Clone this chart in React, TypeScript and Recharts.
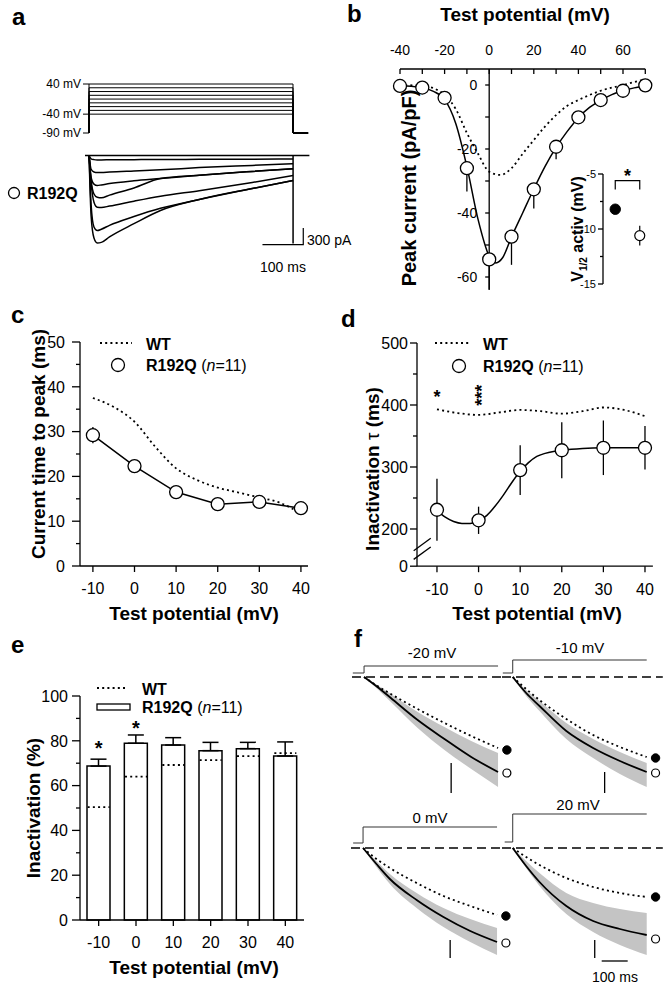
import React from 'react';
import { ComposedChart, Line, Bar, Area, XAxis, YAxis, ErrorBar, ReferenceLine, ReferenceDot } from 'recharts';

const FONT = '"Liberation Sans", Arial, Helvetica, sans-serif';
const K = '#000';
const AX = { stroke: K, strokeWidth: 1.3 };
const DOTS = '2 3.2';

// ===================== Panel a =====================
const protocolLevels = [40, 30, 20, 10, 0, -10, -20, -30, -40];
const holdingPotential = -90;
const pulseEnd = 500;
const protocolEnd = 537;
const protocolTicks = [-90, -40, 40];

const traceTimes = [0, 5, 12, 20, 30, 50, 110, 175, 270, 400, 500];
const traceA = [0, -60, -75, -80, -80, -78, -75, -72, -70, -67, -65];
const traceB = [0, -250, -300, -310, -310, -300, -280, -260, -220, -180, -150];
const traceC = [0, -400, -520, -545, -535, -510, -460, -420, -360, -290, -240];
const traceD = [0, -450, -700, -760, -770, -720, -590, -420, -360, -290, -240];
const traceE = [0, -500, -850, -940, -945, -920, -830, -740, -640, -490, -365];
const traceF = [0, -900, -1300, -1365, -1340, -1270, -1110, -960, -800, -600, -455];
const traceG = [0, -1100, -1500, -1590, -1580, -1480, -1240, -1000, -800, -600, -455];
const currentTraces = [traceA, traceB, traceC, traceD, traceE, traceF, traceG];
const baselineTimes = [-10, 540];
const tailPeak = -1600;
const aBarTimes = [425, 525, 525];
const aBarCurrents = [-1620, -1620, -1320];

// ===================== Panel b =====================
const ivVoltages = [-40, -30, -20, -10, 0, 10, 20, 30, 40, 50, 60, 70];
const ivR192Q = [-0.3, -0.8, -4.0, -26, -54.5, -47.4, -32.6, -19.3, -10.1, -4.7, -1.8, -0.1];
const ivErrDown = [0, 0, 0.8, 7.3, 9.5, 8.8, 6, 3.9, 1, 0.5, 0.3, 0];
const ivFitV = [-40, -35, -30, -25, -20, -15, -10, -5, 0, 3, 6, 10, 15, 20, 25, 30, 35, 40, 45, 50, 55, 60, 65, 70];
const ivFitI = [-0.2, -0.4, -0.9, -2, -4.5, -12, -25.5, -42, -53.5, -55.6, -54, -47.5, -40, -32.5, -25.5, -19.5, -14.5, -10.2, -7, -4.8, -3, -1.8, -0.9, -0.2];
const ivWtV = [-40, -30, -25, -20, -15, -10, -5, 0, 5, 10, 15, 20, 25, 30, 35, 40, 50, 60, 70];
const ivWtI = [0, -0.3, -1, -3.1, -7.5, -15, -21.5, -27.1, -28.1, -26, -21.5, -17.2, -13, -9.4, -6.5, -4.7, -1.8, 0, 1.8];
const ivTopTicks = [-40, -30, -20, -10, 0, 10, 20, 30, 40, 50, 60, 70];
const ivYTicks = [-60, -50, -40, -30, -20, -10, 0];
const vHalfWT = -8.2;
const vHalfR192Q = -10.6;
const vHalfR192QErr = 0.9;
const vHalfTicks = [-15, -12.5, -10, -7.5, -5];
const vHalfBracket = [-6.4, -5.6, -5.6, -6.4];

// ===================== Panel c =====================
const tpV = [-10, 0, 10, 20, 30, 40];
const tpR192Q = [29.2, 22.3, 16.5, 13.8, 14.3, 12.9];
const tpErr = [1.8, 0.8, 0.6, 0.5, 0.6, 0.6];
const tpWtV = [-10, -5, 0, 5, 10, 15, 20, 25, 30, 35, 40];
const tpWt = [37.5, 35.5, 32.2, 26.6, 21.8, 19.2, 17.5, 16.4, 15.3, 14.1, 11.7];
const tpYTicks = [0, 5, 10, 15, 20, 25, 30, 35, 40, 45, 50];
const xTicks = [-10, 0, 10, 20, 30, 40];

// ===================== Panel d =====================
const tauV = [-10, 0, 10, 20, 30, 40];
const tauR192Q = [231, 214, 295, 327, 331, 331];
const tauErr = [50, 22, 40, 45, 44, 35];
const tauFitV = [-10, -8, -6, -4, -2, 0, 2, 4, 6, 8, 10, 12, 14, 16, 18, 20, 25, 30, 35, 40];
const tauFit = [230, 219, 212, 209, 209, 213, 222, 237, 255, 275, 293, 307, 317, 322, 325, 327, 330, 331, 331, 331];
const tauWtV = [-10, -5, 0, 5, 10, 15, 20, 25, 30, 35, 40];
const tauWt = [393, 387, 384, 388, 392, 390, 386, 390, 396, 392, 382];
const tauYTicks = [140, 200, 250, 300, 350, 400, 450, 500];
const tauStars = [{ v: -10, y: 419, txt: '*', rot: false }, { v: 0, y: 415.6, txt: '***', rot: true }];

// ===================== Panel e =====================
const inCats = ['-10', '0', '10', '20', '30', '40'];
const inR192Q = [68.7, 78.9, 78.1, 75.6, 76.5, 73.2];
const inErr = [3.1, 3.7, 3.3, 3.7, 2.8, 6.3];
const inWt = [50.4, 64, 69.2, 71.4, 73.2, 74.5];
const inYTicks = [0, 10, 20, 30, 40, 50, 60, 70, 80, 90, 100];
const inStars = [{ c: '-10', y: 78.9 }, { c: '0', y: 87.8 }];

// ===================== Panel f =====================
const fTimes = [0, 50, 100, 200, 300, 400, 500];
const f1Solid = [0, -10, -21, -43, -62, -80, -95];
const f1Dotted = [0, -9, -17, -32, -46, -59, -71];
const f1BandHi = [0, -8, -17, -35, -50, -64, -76];
const f1BandLo = [0, -12, -25, -51, -73, -92, -110];
const f2Solid = [0, -16, -29, -54, -71, -84, -95];
const f2Dotted = [0, -12, -23, -42, -58, -70, -80];
const f2BandHi = [0, -13, -24, -46, -62, -75, -86];
const f2BandLo = [0, -19, -34, -62, -81, -97, -110];
const f3Solid = [0, -16, -31, -52, -69, -83, -94];
const f3Dotted = [0, -11, -20, -35, -48, -58, -67];
const f3BandHi = [0, -13, -26, -45, -60, -71, -80];
const f3BandLo = [0, -19, -36, -60, -79, -94, -107];
const f4Solid = [0, -18, -34, -58, -73, -81, -87];
const f4Dotted = [0, -9, -17, -30, -39, -45, -49];
const f4BandHi = [0, -13, -25, -45, -55, -61, -65];
const f4BandLo = [0, -20, -38, -66, -84, -97, -107];
const fMarkerT = 533;
const fMarkerFilled = [-73, -81, -68, -49];
const fMarkerOpen = [-96, -96, -95, -91];
const fHold = [4, 4, 5, 6];
const fStep = [11, 17, 21, 34];
const fStepStart = [-42, -37, -37, -30];
const fBarT = [325, 343, 325, 306];
const fBarTop = [-86, -95, -92, -92];
const fBarBottom = [-116, -116, -110, -110];
const fTimeBarT = [332, 429];
const fTimeBarY = -113;
const fLabels = ['-20 mV', '-10 mV', '0 mV', '20 mV'];

// ===================== helpers =====================
const Box = ({ l, t, w, h, children }: any) => (
  <div style={{ position: 'absolute', left: l, top: t, width: w, height: h }}>{children}</div>
);

const makeYTick = (o: any) => (p: any) => {
  const v = p.payload.value;
  const ax = p.x + o.ts + o.tm;
  const major = o.isMajor(v);
  const len = major ? o.majorLen : o.minorLen;
  return (
    <g>
      <line x1={ax - len} x2={ax} y1={p.y} y2={p.y} stroke={K} strokeWidth={1.3} />
      {major && (
        <text x={ax - o.gap} y={p.y} dy="0.36em" textAnchor="end" fontSize={o.fs} fill={K} fontFamily={FONT}>
          {o.label(v)}
        </text>
      )}
    </g>
  );
};

const TopTick = (p: any) => {
  const v = p.payload.value;
  const ay = p.y + 14;
  return (
    <g>
      <line x1={p.x} x2={p.x} y1={ay} y2={ay + 5} stroke={K} strokeWidth={1.3} />
      {v % 20 === 0 && (
        <text x={p.x} y={p.y} textAnchor="middle" fontSize={14} fill={K} fontFamily={FONT}>{v}</text>
      )}
    </g>
  );
};

const ProtoTick = (p: any) => {
  const v = p.payload.value;
  const ax = p.x + 8;
  return (
    <g>
      <line x1={ax - 6} x2={ax} y1={p.y} y2={p.y} stroke={K} strokeWidth={1} />
      <text x={ax - 8} y={p.y} dy="0.36em" textAnchor="end" fontSize={12} fill={K} fontFamily={FONT}>{`${v} mV`}</text>
    </g>
  );
};

const starShape = (txt: string, size: number, rot: boolean) => (p: any) => (
  <text x={p.cx} y={p.cy} dy={rot ? '0.55em' : '0.57em'} textAnchor="middle" fontSize={size} fontWeight="bold" fill={K}
    fontFamily={FONT} transform={rot ? `rotate(-90 ${p.cx} ${p.cy})` : undefined}>{txt}</text>
);

const openDot = { r: 6.5, fill: '#fff', stroke: K, strokeWidth: 1.3 };
const bottomX = (domain: number[]) => (
  <XAxis type="number" dataKey="v" domain={domain} ticks={xTicks} interval={0} height={30} tickSize={6} tickMargin={11}
    tick={{ fontSize: 16, fill: K }} tickLine={AX} axisLine={AX} />
);

// ===================== panels =====================
function PanelA() {
  const rows = traceTimes.map((t, i) => {
    const r: any = { t };
    currentTraces.forEach((tr, j) => { r['c' + j] = tr[i]; });
    return r;
  });
  return (
    <>
      <Box l={20} t={74} w={300} h={66}>
        <ComposedChart width={300} height={66} margin={{ top: 10, right: 11.9, bottom: 7, left: 9 }}>
          <XAxis type="number" dataKey="t" domain={[0, protocolEnd]} hide />
          <YAxis type="number" domain={[holdingPotential, 40]} ticks={protocolTicks} interval={0} width={60} axisLine={false}
            tickLine={false} tickSize={6} tickMargin={2} tick={ProtoTick} />
          {protocolLevels.map((L) => (
            <Line key={L} dataKey="v" type="linear" stroke={K} strokeWidth={1} dot={false} activeDot={false} isAnimationActive={false}
              data={[{ t: 0, v: holdingPotential }, { t: 0, v: L }, { t: pulseEnd, v: L }, { t: pulseEnd, v: holdingPotential }, { t: protocolEnd, v: holdingPotential }]} />
          ))}
        </ComposedChart>
      </Box>
      <Box l={84.92} t={149.5} w={224.4} h={99}>
        <ComposedChart width={224.4} height={99} margin={{ top: 0, right: 0, bottom: 0, left: 0 }} data={rows}>
          <XAxis type="number" dataKey="t" domain={[-10, 540]} hide />
          <YAxis type="number" domain={[-1700, 100]} hide />
          <Line data={baselineTimes.map((t) => ({ t, c0: 0 }))} dataKey="c0" type="linear" stroke={K} strokeWidth={1.5} dot={false} activeDot={false} isAnimationActive={false} />
          <Line data={[{ t: pulseEnd, c0: 0 }, { t: pulseEnd, c0: tailPeak }]} dataKey="c0" type="linear" stroke={K} strokeWidth={1.5} dot={false} activeDot={false} isAnimationActive={false} />
          {currentTraces.map((_, j) => (
            <Line key={j} dataKey={'c' + j} type="monotone" stroke={K} strokeWidth={1.5} dot={false} activeDot={false} isAnimationActive={false} />
          ))}
          <Line data={aBarTimes.map((t, i) => ({ t, c0: aBarCurrents[i] }))} dataKey="c0" type="linear" stroke={K} strokeWidth={1.2} dot={false} activeDot={false} isAnimationActive={false} />
        </ComposedChart>
      </Box>
    </>
  );
}

function PanelB() {
  const pts = ivVoltages.map((v, i) => ({ v, i: ivR192Q[i], e: [ivErrDown[i], 0] }));
  const fit = ivFitV.map((v, i) => ({ v, i: ivFitI[i] }));
  const wt = ivWtV.map((v, i) => ({ v, i: ivWtI[i] }));
  const br = [1, 1, 3, 3].map((x, i) => ({ x, y: vHalfBracket[i] }));
  return (
    <>
      <Box l={400} t={40} w={245.3} h={249.8}>
        <ComposedChart width={245.3} height={249.8} margin={{ top: 0, right: 0, bottom: 0, left: 0 }}>
          <XAxis type="number" dataKey="v" orientation="top" domain={[-40, 70]} ticks={ivTopTicks} interval={0} height={29}
            tickSize={8} tickMargin={6} tickLine={false} tick={TopTick} axisLine={AX} />
          <YAxis type="number" domain={[-64, 5]} hide />
          <ReferenceLine x={0} stroke={K} strokeWidth={1.3} />
          {ivYTicks.map((y) => (
            <ReferenceLine key={y} segment={[{ x: -1.8, y }, { x: 0, y }]} stroke={K} strokeWidth={1.3} ifOverflow="visible"
              label={y % 20 === 0 ? { value: String(y), position: 'left', offset: 8, fontSize: 14, fill: K } : undefined} />
          ))}
          <Line data={wt} dataKey="i" type="monotone" stroke={K} strokeWidth={1.8} strokeDasharray={DOTS} dot={false} activeDot={false} isAnimationActive={false} />
          <Line data={fit} dataKey="i" type="monotone" stroke={K} strokeWidth={1.5} dot={false} activeDot={false} isAnimationActive={false} />
          <Line data={pts} dataKey="i" stroke="none" dot={openDot} activeDot={false} isAnimationActive={false}>
            <ErrorBar dataKey="e" width={0} stroke={K} strokeWidth={1.3} direction="y" />
          </Line>
        </ComposedChart>
      </Box>
      <Box l={563} t={174} w={89} h={110}>
        <ComposedChart width={89} height={110} margin={{ top: 0, right: 0, bottom: 0, left: 0 }}>
          <XAxis type="number" dataKey="x" domain={[0, 4]} hide />
          <YAxis type="number" domain={[-15, -5]} ticks={vHalfTicks} interval={0} width={40} tickSize={5} tickMargin={3} tickLine={false}
            axisLine={AX} tick={makeYTick({ ts: 5, tm: 3, isMajor: (v: number) => v % 5 === 0, label: String, majorLen: 5, minorLen: 3, gap: 7, fs: 11 })} />
          <Line data={br} dataKey="y" type="linear" stroke={K} strokeWidth={1.2} dot={false} activeDot={false} isAnimationActive={false} />
          <Line data={[{ x: 1, y: vHalfWT }]} dataKey="y" stroke="none" dot={{ r: 5.2, fill: K, stroke: K }} activeDot={false} isAnimationActive={false} />
          <Line data={[{ x: 3, y: vHalfR192Q, e: vHalfR192QErr }]} dataKey="y" stroke="none" dot={{ r: 5, fill: '#fff', stroke: K, strokeWidth: 1.2 }} activeDot={false} isAnimationActive={false}>
            <ErrorBar dataKey="e" width={0} stroke={K} strokeWidth={1.2} direction="y" />
          </Line>
          <ReferenceDot x={2} y={-4.82} r={1} ifOverflow="visible" shape={starShape('*', 18, false)} />
        </ComposedChart>
      </Box>
    </>
  );
}

function PanelC() {
  const pts = tpV.map((v, i) => ({ v, y: tpR192Q[i], e: tpErr[i] }));
  const wt = tpWtV.map((v, i) => ({ v, y: tpWt[i] }));
  return (
    <Box l={30} t={342} w={278} h={254}>
      <ComposedChart width={278} height={254} margin={{ top: 0, right: 0, bottom: 0, left: 0 }}>
        {bottomX([-13.1, 41.7])}
        <YAxis type="number" domain={[0, 50]} ticks={tpYTicks} interval={0} width={50} tickSize={8} tickMargin={7} tickLine={false} axisLine={AX}
          tick={makeYTick({ ts: 8, tm: 7, isMajor: (v: number) => v % 10 === 0, label: String, majorLen: 8, minorLen: 4, gap: 15, fs: 16 })} />
        <Line data={wt} dataKey="y" type="monotone" stroke={K} strokeWidth={1.8} strokeDasharray={DOTS} dot={false} activeDot={false} isAnimationActive={false} />
        <Line data={pts} dataKey="y" type="linear" stroke={K} strokeWidth={1.5} dot={openDot} activeDot={false} isAnimationActive={false}>
          <ErrorBar dataKey="e" width={0} stroke={K} strokeWidth={1.3} direction="y" />
        </Line>
      </ComposedChart>
    </Box>
  );
}

function PanelD() {
  const pts = tauV.map((v, i) => ({ v, y: tauR192Q[i], e: tauErr[i] }));
  const fit = tauFitV.map((v, i) => ({ v, y: tauFit[i] }));
  const wt = tauWtV.map((v, i) => ({ v, y: tauWt[i] }));
  return (
    <Box l={357} t={343} w={295.9} h={253.2}>
      <ComposedChart width={295.9} height={253.2} margin={{ top: 0, right: 0, bottom: 0, left: 0 }}>
        {bottomX([-14.8, 41.9])}
        <YAxis type="number" domain={[140, 500]} ticks={tauYTicks} interval={0} width={60} tickSize={7} tickMargin={7} tickLine={false} axisLine={AX}
          tick={makeYTick({ ts: 7, tm: 7, isMajor: (v: number) => v === 140 || v % 100 === 0, label: (v: number) => (v === 140 ? '0' : String(v)), majorLen: 7, minorLen: 4, gap: 9, fs: 16 })} />
        <ReferenceLine segment={[{ x: -15.6, y: 165 }, { x: -11.5, y: 185 }]} stroke={K} strokeWidth={1.3} ifOverflow="visible" />
        <ReferenceLine segment={[{ x: -15.6, y: 151 }, { x: -11.5, y: 171 }]} stroke={K} strokeWidth={1.3} ifOverflow="visible" />
        <Line data={wt} dataKey="y" type="monotone" stroke={K} strokeWidth={1.8} strokeDasharray={DOTS} dot={false} activeDot={false} isAnimationActive={false} />
        <Line data={fit} dataKey="y" type="monotone" stroke={K} strokeWidth={1.5} dot={false} activeDot={false} isAnimationActive={false} />
        <Line data={pts} dataKey="y" stroke="none" dot={openDot} activeDot={false} isAnimationActive={false}>
          <ErrorBar dataKey="e" width={0} stroke={K} strokeWidth={1.3} direction="y" />
        </Line>
        {tauStars.map((s) => (
          <ReferenceDot key={s.v} x={s.v} y={s.y} r={1} ifOverflow="visible" shape={starShape(s.txt, 18, s.rot)} />
        ))}
      </ComposedChart>
    </Box>
  );
}

function PanelE() {
  const rows = inCats.map((c, i) => ({ v: c, r: inR192Q[i], e: [0, inErr[i]], wt: inWt[i] }));
  const wtDot = (p: any) => (
    <line key={'w' + p.index} x1={p.cx - 11} x2={p.cx + 11} y1={p.cy} y2={p.cy} stroke={K} strokeWidth={1.8} strokeDasharray={DOTS} />
  );
  return (
    <Box l={30} t={696} w={274} h={254}>
      <ComposedChart width={274} height={254} data={rows} margin={{ top: 0, right: 0, bottom: 0, left: 0 }}>
        <XAxis type="category" dataKey="v" height={30} tickSize={6} tickMargin={11} interval={0} tick={{ fontSize: 16, fill: K }} tickLine={AX} axisLine={AX} />
        <YAxis type="number" domain={[0, 100]} ticks={inYTicks} interval={0} width={50} tickSize={8} tickMargin={4} tickLine={false} axisLine={AX}
          tick={makeYTick({ ts: 8, tm: 4, isMajor: (v: number) => v % 20 === 0, label: String, majorLen: 8, minorLen: 4, gap: 12, fs: 16 })} />
        <Bar dataKey="r" barSize={23} fill="#fff" stroke={K} strokeWidth={1.5} isAnimationActive={false}>
          <ErrorBar dataKey="e" width={8} stroke={K} strokeWidth={1.5} direction="y" />
        </Bar>
        <Line dataKey="wt" stroke="none" dot={wtDot} activeDot={false} isAnimationActive={false} />
        {inStars.map((s) => (
          <ReferenceDot key={s.c} x={s.c} y={s.y} r={1} ifOverflow="visible" shape={starShape('*', 20, false)} />
        ))}
      </ComposedChart>
    </Box>
  );
}

function FSub({ l, t, w, h, xDom, yDom, k, solid, dotted, hi, lo, dashFrom, dashTo, timeBar }: any) {
  const rows = fTimes.map((tm, i) => ({ t: tm, s: solid[i], d: dotted[i], band: [lo[i], hi[i]] }));
  const proto = [{ t: fStepStart[k], y: fHold[k] }, { t: 0, y: fHold[k] }, { t: 0, y: fStep[k] }, { t: pulseEnd, y: fStep[k] }];
  return (
    <Box l={l} t={t} w={w} h={h}>
      <ComposedChart width={w} height={h} data={rows} margin={{ top: 0, right: 0, bottom: 0, left: 0 }}>
        <XAxis type="number" dataKey="t" domain={xDom} hide />
        <YAxis type="number" domain={yDom} hide />
        <Area dataKey="band" type="monotone" fill="#c4c4c4" fillOpacity={1} stroke="none" isAnimationActive={false} />
        <ReferenceLine segment={[{ x: dashFrom, y: 0 }, { x: dashTo, y: 0 }]} stroke={K} strokeWidth={1.3} strokeDasharray="9 5" />
        <Line data={proto} dataKey="y" type="linear" stroke="#333" strokeWidth={1} dot={false} activeDot={false} isAnimationActive={false} />
        <Line dataKey="d" type="monotone" stroke={K} strokeWidth={1.8} strokeDasharray={DOTS} dot={false} activeDot={false} isAnimationActive={false} />
        <Line dataKey="s" type="monotone" stroke={K} strokeWidth={1.8} dot={false} activeDot={false} isAnimationActive={false} />
        <ReferenceLine segment={[{ x: fBarT[k], y: fBarTop[k] }, { x: fBarT[k], y: fBarBottom[k] }]} stroke={K} strokeWidth={1.3} />
        {timeBar && (
          <ReferenceLine segment={[{ x: fTimeBarT[0], y: fTimeBarY }, { x: fTimeBarT[1], y: fTimeBarY }]} stroke={K} strokeWidth={1.3} />
        )}
        <Line data={[{ t: fMarkerT, y: fMarkerFilled[k] }]} dataKey="y" stroke="none" dot={{ r: 4.2, fill: K, stroke: K }} activeDot={false} isAnimationActive={false} />
        <Line data={[{ t: fMarkerT, y: fMarkerOpen[k] }]} dataKey="y" stroke="none" dot={{ r: 4, fill: '#fff', stroke: K, strokeWidth: 1.2 }} activeDot={false} isAnimationActive={false} />
      </ComposedChart>
    </Box>
  );
}

function PanelF() {
  return (
    <>
      <FSub l={351.94} t={657} w={156.78} h={138} xDom={[-45, 540]} yDom={[-118, 20]} k={0}
        solid={f1Solid} dotted={f1Dotted} hi={f1BandHi} lo={f1BandLo} dashFrom={-45} dashTo={516} />
      <FSub l={502.28} t={657} w={160.8} h={138} xDom={[-40, 560]} yDom={[-118, 20]} k={1}
        solid={f2Solid} dotted={f2Dotted} hi={f2BandHi} lo={f2BandLo} dashFrom={-40} dashTo={560} />
      <FSub l={350.94} t={812} w={156.78} h={150} xDom={[-45, 540]} yDom={[-114, 36]} k={2}
        solid={f3Solid} dotted={f3Dotted} hi={f3BandHi} lo={f3BandLo} dashFrom={-45} dashTo={520} />
      <FSub l={502.28} t={812} w={160.8} h={150} xDom={[-40, 560]} yDom={[-114, 36]} k={3}
        solid={f4Solid} dotted={f4Dotted} hi={f4BandHi} lo={f4BandLo} dashFrom={-40} dashTo={560} timeBar />
    </>
  );
}

const RotText = ({ cx, cy, size, children }: any) => (
  <text transform={`translate(${cx},${cy}) rotate(-90)`} textAnchor="middle" dy="0.35em" fontSize={size} fontWeight="bold" fill={K}>{children}</text>
);
const Letter = ({ x, y, c }: any) => (
  <text x={x} y={y} fontSize={24} fontWeight="bold" fill={K}>{c}</text>
);
const R192QText = ({ x, y }: any) => (
  <text x={x} y={y} fontSize={16} fill={K}>
    <tspan fontWeight="bold">R192Q</tspan>
    <tspan> (</tspan>
    <tspan fontStyle="italic">n</tspan>
    <tspan>=11)</tspan>
  </text>
);

function TextLayer() {
  return (
    <svg width={669} height={987} style={{ position: 'absolute', left: 0, top: 0, pointerEvents: 'none' }} fontFamily={FONT}>
      <Letter x={12} y={25} c="a" />
      <Letter x={347} y={22} c="b" />
      <Letter x={11} y={323} c="c" />
      <Letter x={341} y={327} c="d" />
      <Letter x={11} y={653} c="e" />
      <Letter x={354} y={647} c="f" />

      {/* panel a */}
      <circle cx={14} cy={193} r={5.5} fill="#fff" stroke={K} strokeWidth={1.3} />
      <text x={27} y={199} fontSize={16} fontWeight="bold" fill={K}>R192Q</text>
      <text x={307} y={245} fontSize={14} fill={K}>300 pA</text>
      <text x={283} y={272} fontSize={14} fill={K} textAnchor="middle">100 ms</text>

      {/* panel b */}
      <text x={525} y={21} fontSize={19} fontWeight="bold" fill={K} textAnchor="middle">Test potential (mV)</text>
      <RotText cx={409} cy={188} size={20}>Peak current (pA/pF)</RotText>
      <text transform="translate(577,229) rotate(-90)" textAnchor="middle" dy="0.35em" fontSize={16} fontWeight="bold" fill={K}>
        V<tspan fontSize={10} dy={4}>1/2</tspan><tspan dy={-4}> activ (mV)</tspan>
      </text>

      {/* panel c */}
      <line x1={100} x2={132} y1={343} y2={343} stroke={K} strokeWidth={1.8} strokeDasharray={DOTS} />
      <text x={146} y={350} fontSize={16} fontWeight="bold" fill={K}>WT</text>
      <circle cx={118} cy={365} r={6.5} fill="#fff" stroke={K} strokeWidth={1.3} />
      <R192QText x={146} y={371} />
      <RotText cx={38} cy={444} size={19}>Current time to peak (ms)</RotText>
      <text x={194} y={620} fontSize={19} fontWeight="bold" fill={K} textAnchor="middle">Test potential (mV)</text>

      {/* panel d */}
      <line x1={435} x2={470} y1={343} y2={343} stroke={K} strokeWidth={1.8} strokeDasharray={DOTS} />
      <text x={483} y={350} fontSize={16} fontWeight="bold" fill={K}>WT</text>
      <circle cx={459} cy={366} r={6.5} fill="#fff" stroke={K} strokeWidth={1.3} />
      <R192QText x={483} y={372} />
      <text transform="translate(372,469) rotate(-90)" textAnchor="middle" dy="0.35em" fontSize={19} fontWeight="bold" fill={K}>
        Inactivation <tspan fontWeight="normal">τ</tspan> (ms)
      </text>
      <text x={537} y={620} fontSize={19} fontWeight="bold" fill={K} textAnchor="middle">Test potential (mV)</text>

      {/* panel e */}
      <line x1={97} x2={127} y1={688} y2={688} stroke={K} strokeWidth={1.8} strokeDasharray={DOTS} />
      <text x={142} y={695} fontSize={16} fontWeight="bold" fill={K}>WT</text>
      <rect x={97} y={704} width={33} height={6} fill="#fff" stroke={K} strokeWidth={1.3} />
      <R192QText x={142} y={713} />
      <RotText cx={33} cy={808} size={19}>Inactivation (%)</RotText>
      <text x={194} y={974} fontSize={19} fontWeight="bold" fill={K} textAnchor="middle">Test potential (mV)</text>

      {/* panel f */}
      <text x={432} y={658} fontSize={15} fill={K} textAnchor="middle">{fLabels[0]}</text>
      <text x={580} y={653} fontSize={15} fill={K} textAnchor="middle">{fLabels[1]}</text>
      <text x={430} y={823} fontSize={15} fill={K} textAnchor="middle">{fLabels[2]}</text>
      <text x={578} y={810} fontSize={15} fill={K} textAnchor="middle">{fLabels[3]}</text>
      <text x={615} y={982} fontSize={14} fill={K} textAnchor="middle">100 ms</text>
    </svg>
  );
}

export default function App() {
  return (
    <div style={{ position: 'absolute', left: 0, top: 0, width: 669, height: 987, background: '#fff', fontFamily: FONT, overflow: 'hidden' }}>
      <style>{`.recharts-surface{overflow:visible}`}</style>
      <PanelA />
      <PanelB />
      <PanelC />
      <PanelD />
      <PanelE />
      <PanelF />
      <TextLayer />
    </div>
  );
}
